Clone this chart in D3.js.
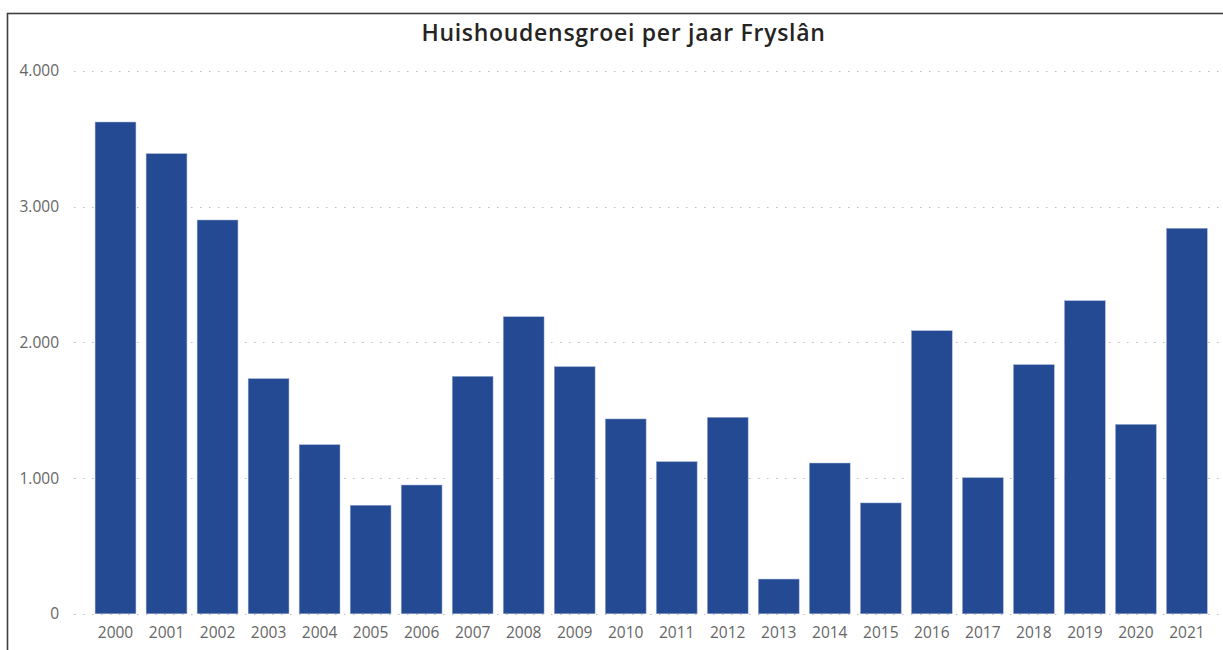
<!DOCTYPE html>
<html>
<head>
  <meta charset="utf-8">
  <script src="https://cdn.jsdelivr.net/npm/d3@7"></script>
  <style>
    body {
      margin:0;
      background:#fff;
    }
    text {
      font-family: "Open Sans", "Noto Sans", sans-serif;
    }
  </style>
</head>
<body>
  <svg width="1223" height="650"></svg>
  <script>
    // Data
    var years = ["2000", "2001", "2002", "2003", "2004", "2005", "2006", "2007", "2008", "2009", "2010",
                 "2011", "2012", "2013", "2014", "2015", "2016", "2017", "2018", "2019", "2020", "2021"];
    var households = [3624, 3391, 2902, 1733, 1246, 800, 949, 1750, 2189, 1821, 1436,
                      1121, 1448, 256, 1111, 817, 2086, 1003, 1836, 2307, 1396, 2841];
    var yTicks = [0, 1000, 2000, 3000, 4000];
    var title = "Huishoudensgroei per jaar Fryslân";

    var svg = d3.select("svg"),
        width = +svg.attr("width"),
        height = +svg.attr("height");

    // frame of the visual (runs off the right and bottom edge)
    svg.append("rect")
        .attr("x", 7.5)
        .attr("y", 13.5)
        .attr("width", 1300)
        .attr("height", 700)
        .attr("fill", "none")
        .attr("stroke", "#3f3f3f")
        .attr("stroke-width", 1.6);

    var x = d3.scaleBand()
        .domain(years)
        .range([90, 1212.4])
        .paddingInner(0.2)
        .paddingOuter(0.1);

    var y = d3.scaleLinear()
        .domain([0, 4000])
        .range([613.8, 71]);

    var fmt = function (d) { return d3.format(",")(d).replace(/,/g, "."); };

    // gridlines
    svg.append("g")
      .selectAll("line")
      .data(yTicks)
      .enter().append("line")
        .attr("x1", 74)
        .attr("x2", 1219)
        .attr("y1", function (d) { return Math.round(y(d)) + 0.5; })
        .attr("y2", function (d) { return Math.round(y(d)) + 0.5; })
        .attr("stroke", "#bdbdbd")
        .attr("stroke-width", 1)
        .attr("stroke-dasharray", "1.5,7.5");

    // y labels
    svg.append("g")
      .selectAll("text")
      .data(yTicks)
      .enter().append("text")
        .attr("x", 59)
        .attr("y", function (d) { return y(d); })
        .attr("dy", "0.35em")
        .attr("text-anchor", "end")
        .attr("font-size", 15.5)
        .attr("fill", "#666666")
        .text(fmt);

    // bars
    svg.append("g")
      .selectAll("rect")
      .data(households)
      .enter().append("rect")
        .attr("x", function (d, i) { return x(years[i]); })
        .attr("y", function (d) { return y(d); })
        .attr("width", x.bandwidth())
        .attr("height", function (d) { return y(0) - y(d); })
        .attr("fill", "#234a93")
        .attr("stroke", "#9fb0d2")
        .attr("stroke-width", 0.5);

    // x labels
    svg.append("g")
      .selectAll("text")
      .data(years)
      .enter().append("text")
        .attr("x", function (d) { return x(d) + x.bandwidth() / 2; })
        .attr("y", 638)
        .attr("text-anchor", "middle")
        .attr("font-size", 15.5)
        .attr("fill", "#666666")
        .text(function (d) { return d; });

    // title
    svg.append("text")
        .attr("x", 623.5)
        .attr("y", 41)
        .attr("text-anchor", "middle")
        .attr("font-size", 23)
        .attr("font-weight", 600)
        .attr("letter-spacing", 0.7)
        .attr("fill", "#252423")
        .text(title);
  </script>
</body>
</html>
